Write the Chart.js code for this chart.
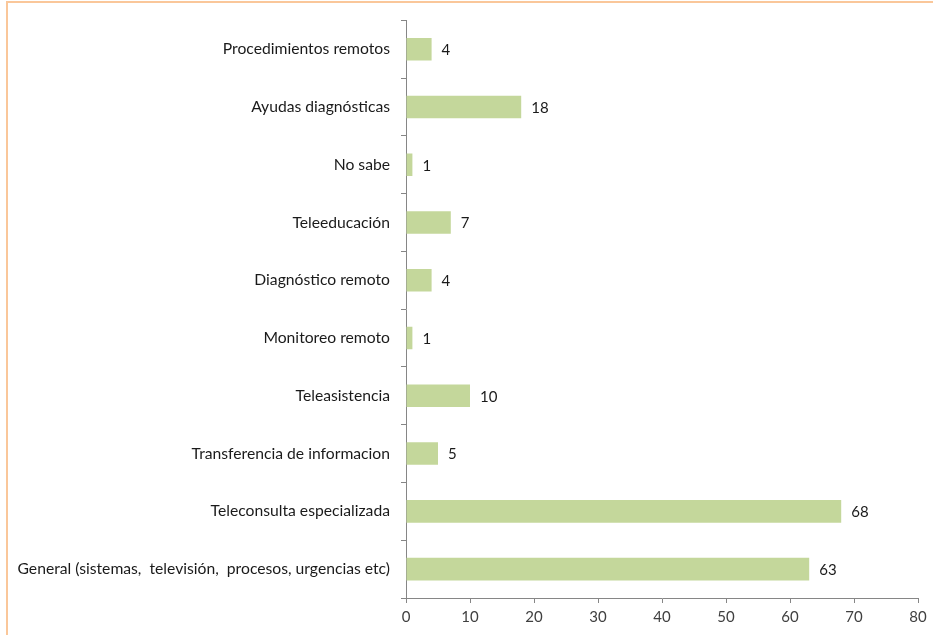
<!DOCTYPE html>
<html>
<head>
<meta charset="utf-8">
<script src="https://cdn.jsdelivr.net/npm/chart.js@4/dist/chart.umd.min.js"></script>
<style>
  html, body { margin: 0; padding: 0; background: #fff; overflow: hidden; }
  #wrap { position: relative; width: 933px; height: 635px; }
  #frame { position: absolute; left: 6px; top: 1px; width: 1000px; height: 1000px;
           border-top: 2px solid #fac79a; border-left: 2px solid #fac79a; box-sizing: border-box; }
  canvas { position: absolute; left: 0; top: 0; }
</style>
</head>
<body>
<div id="wrap">
  <div id="frame"></div>
  <canvas id="c" width="933" height="635"></canvas>
</div>
<script>
// Categories listed top to bottom
const categories = [
  'Procedimientos remotos',
  'Ayudas diagnósticas',
  'No sabe',
  'Teleeducación',
  'Diagnóstico remoto',
  'Monitoreo remoto',
  'Teleasistencia',
  'Transferencia de informacion',
  'Teleconsulta especializada',
  'General (sistemas,  televisión,  procesos, urgencias etc)'
];
const values = [4, 18, 1, 7, 4, 1, 10, 5, 68, 63];
const xTicks = [0, 10, 20, 30, 40, 50, 60, 70, 80];

const FONT = 'Lato, "Liberation Sans", sans-serif';

// Value labels at the end of each bar
const valueLabels = {
  id: 'valueLabels',
  afterDatasetsDraw(chart) {
    const ctx = chart.ctx;
    const meta = chart.getDatasetMeta(0);
    ctx.save();
    ctx.font = '15px ' + FONT;
    ctx.fillStyle = '#1a1a1a';
    ctx.textAlign = 'left';
    ctx.textBaseline = 'middle';
    meta.data.forEach((bar, i) => {
      ctx.fillText(String(values[i]), bar.x + 10, bar.y + 1);
    });
    ctx.restore();
  }
};

new Chart(document.getElementById('c'), {
  type: 'bar',
  data: {
    labels: categories,
    datasets: [{
      data: values,
      backgroundColor: '#c4d79b',
      borderWidth: 0,
      barPercentage: 0.39,
      categoryPercentage: 1
    }]
  },
  options: {
    indexAxis: 'y',
    responsive: false,
    animation: false,
    events: [],
    layout: { padding: { top: 20, right: 15, bottom: 0, left: 0 } },
    plugins: { legend: { display: false }, tooltip: { enabled: false } },
    scales: {
      x: {
        min: 0, max: 80,
        afterBuildTicks(axis) { axis.ticks = xTicks.map(v => ({ value: v })); },
        afterFit(axis) { axis.height = 37; },
        grid: { drawOnChartArea: false, drawTicks: true, tickLength: 5, color: '#868686' },
        border: { color: '#868686', width: 1 },
        ticks: { font: { family: FONT, size: 15 }, color: '#404040', padding: 5, maxRotation: 0 }
      },
      y: {
        afterFit(axis) { axis.width = 406; },
        grid: { drawOnChartArea: false, drawTicks: true, tickLength: 5, color: '#868686', offset: true },
        border: { color: '#868686', width: 1 },
        ticks: { font: { family: FONT, size: 15.7 }, color: '#1a1a1a', padding: 11, autoSkip: false }
      }
    }
  },
  plugins: [valueLabels]
});
</script>
</body>
</html>
